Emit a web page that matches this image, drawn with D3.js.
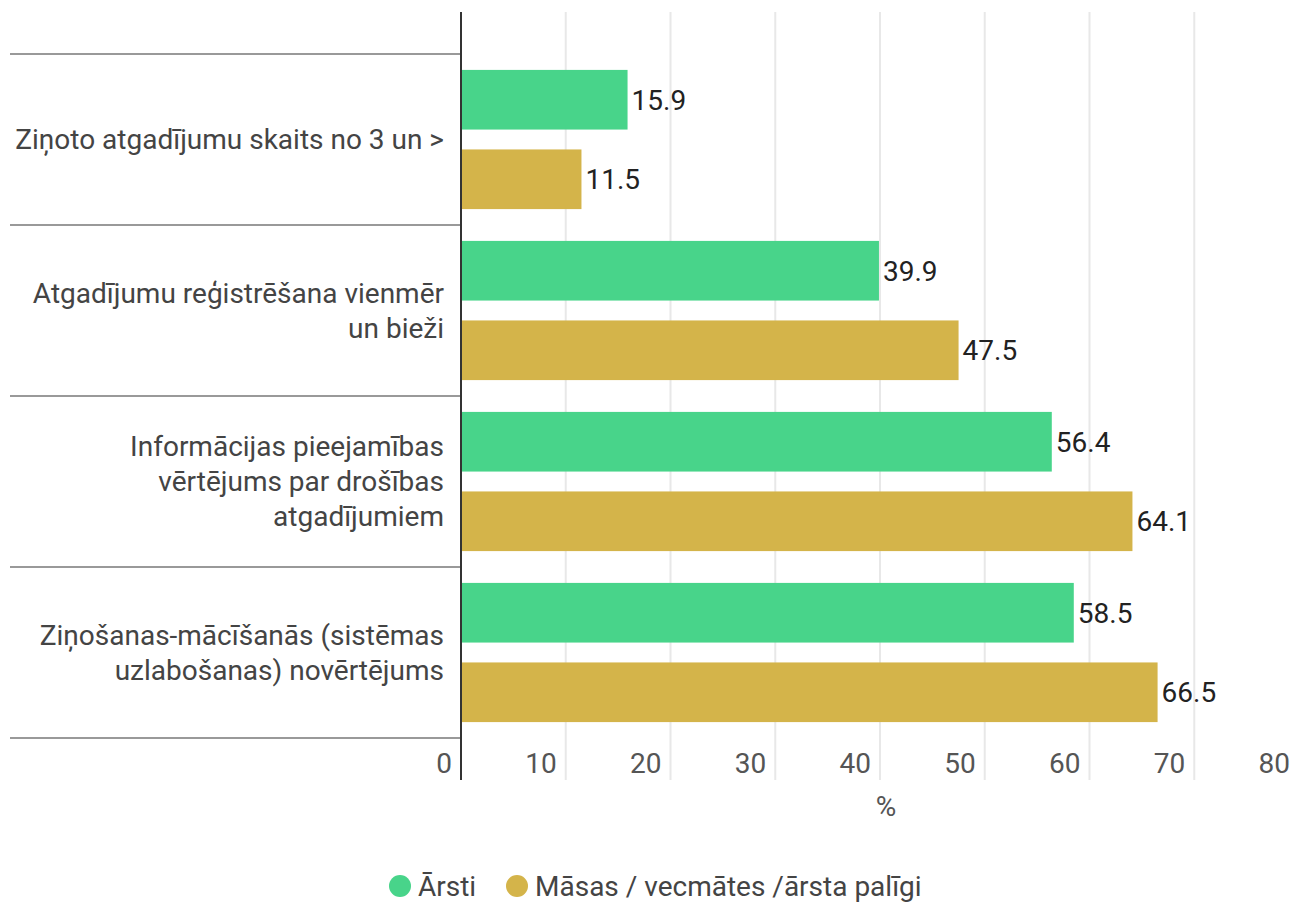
<!DOCTYPE html>
<html>
<head>
<meta charset="utf-8">
<script src="https://cdn.jsdelivr.net/npm/d3@7"></script>
<style>
  body { margin: 0; background: #fff; }
  text { font-family: Roboto, "Noto Sans", sans-serif; }
</style>
</head>
<body>
<svg id="chart" width="1291" height="905"></svg>
<script>
var categories = [
  ['Ziņoto atgadījumu skaits no 3 un >'],
  ['Atgadījumu reģistrēšana vienmēr', 'un bieži'],
  ['Informācijas pieejamības', 'vērtējums par drošības', 'atgadījumiem'],
  ['Ziņošanas-mācīšanās (sistēmas', 'uzlabošanas) novērtējums']
]
var seriesNames = ['Ārsti', 'Māsas / vecmātes /ārsta palīgi']
var arsti = [15.9, 39.9, 56.4, 58.5]
var masas = [11.5, 47.5, 64.1, 66.5]
var xTicks = [0, 10, 20, 30, 40, 50, 60, 70, 80]
var colors = ['#48d48a', '#d4b44a']

var svg = d3.select('#chart')
var plotLeft = 461, plotTop = 54, plotBottom = 738
var fs = 28
var x = d3.scaleLinear().domain([0, 80]).range([plotLeft, plotLeft + 838])
var y = d3.scaleBand().domain(d3.range(categories.length)).range([plotTop, plotBottom])
var inner = d3.scaleBand().domain([0, 1]).range([0, y.bandwidth()]).paddingInner(0.25).paddingOuter(0.2)

// grid
svg.append('g').selectAll('line').data(xTicks.slice(1))
  .join('line')
  .attr('x1', d => x(d)).attr('x2', d => x(d))
  .attr('y1', 12).attr('y2', 780)
  .attr('stroke', '#e8e8e8').attr('stroke-width', 2)

// category separators
svg.append('g').selectAll('line').data(d3.range(categories.length + 1))
  .join('line')
  .attr('x1', 10).attr('x2', plotLeft)
  .attr('y1', i => i < categories.length ? y(i) : plotBottom)
  .attr('y2', i => i < categories.length ? y(i) : plotBottom)
  .attr('stroke', '#999').attr('stroke-width', 2)

// bars
var data = []
categories.forEach(function (c, i) {
  data.push({ cat: i, s: 0, v: arsti[i] })
  data.push({ cat: i, s: 1, v: masas[i] })
})
var bars = svg.append('g')
bars.selectAll('rect').data(data)
  .join('rect')
  .attr('x', x(0))
  .attr('y', d => y(d.cat) + inner(d.s))
  .attr('width', d => x(d.v) - x(0))
  .attr('height', inner.bandwidth())
  .attr('fill', d => colors[d.s])
bars.selectAll('text').data(data)
  .join('text')
  .attr('x', d => x(d.v) + 4)
  .attr('y', d => y(d.cat) + inner(d.s) + inner.bandwidth() / 2)
  .attr('dy', '0.35em')
  .attr('font-size', fs)
  .attr('fill', '#222')
  .text(d => d3.format('.1f')(d.v))

// axis line
svg.append('line')
  .attr('x1', plotLeft).attr('x2', plotLeft).attr('y1', 12).attr('y2', 780)
  .attr('stroke', '#333').attr('stroke-width', 2)

// category labels
var lh = 35
svg.append('g').selectAll('text').data(categories)
  .join('text')
  .attr('text-anchor', 'end')
  .attr('font-size', fs)
  .attr('fill', '#444')
  .each(function (lines, i) {
    var cy = y(i) + y.bandwidth() / 2 - (lines.length - 1) * lh / 2
    d3.select(this).selectAll('tspan').data(lines)
      .join('tspan')
      .attr('x', 444)
      .attr('y', (l, j) => cy + j * lh)
      .attr('dy', '0.35em')
      .text(l => l)
  })

// tick labels
svg.append('g').selectAll('text').data(xTicks)
  .join('text')
  .attr('x', d => x(d) - 9)
  .attr('y', 763)
  .attr('dy', '0.35em')
  .attr('text-anchor', 'end')
  .attr('font-size', fs)
  .attr('fill', '#555')
  .text(d => d)

svg.append('text')
  .attr('x', 886).attr('y', 806).attr('dy', '0.35em')
  .attr('text-anchor', 'middle')
  .attr('font-size', fs).attr('fill', '#555')
  .text('%')

// legend
var legend = svg.append('g')
var lx = [400, 517]
seriesNames.forEach(function (name, i) {
  legend.append('circle')
    .attr('cx', lx[i]).attr('cy', 886).attr('r', 11)
    .attr('fill', colors[i])
  legend.append('text')
    .attr('x', lx[i] + 18).attr('y', 886).attr('dy', '0.35em')
    .attr('font-size', fs).attr('fill', '#444')
    .text(name)
})
</script>
</body>
</html>
